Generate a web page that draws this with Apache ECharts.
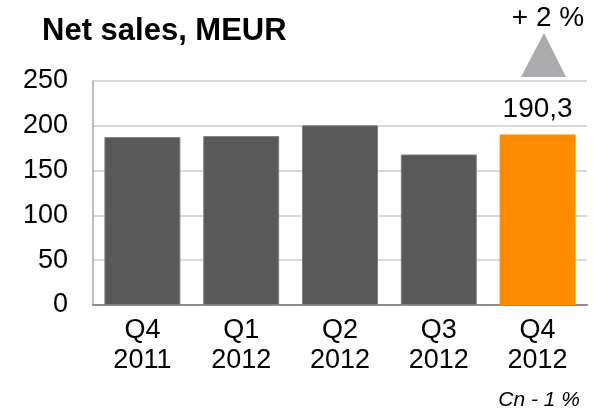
<!DOCTYPE html>
<html>
<head>
<meta charset="utf-8">
<script src="https://cdn.jsdelivr.net/npm/echarts@6/dist/echarts.min.js"></script>
<style>
  html, body { margin: 0; padding: 0; background: #fff; }
  #chart { width: 602px; height: 413px; }
</style>
</head>
<body>
<div id="chart"></div>
<script>
// Quarterly net sales, MEUR
const quarters = ['Q4\n2011', 'Q1\n2012', 'Q2\n2012', 'Q3\n2012', 'Q4\n2012'];
const netSales = [187.4, 188.5, 200.5, 168.0, 190.3];
const yTicks = [0, 50, 100, 150, 200, 250];
const growthText = '+ 2 %';
const currencyNote = 'Cn - 1 %';

const FONT = '"Liberation Sans", Arial, sans-serif';
const DARK = '#595959';
const ORANGE = '#FF8C00';
const last = netSales.length - 1;

const chart = echarts.init(document.getElementById('chart'), null, { renderer: 'canvas' });

chart.setOption({
  animation: false,
  backgroundColor: '#ffffff',
  grid: { left: 93, right: 15, top: 81, bottom: 108, containLabel: false },
  xAxis: {
    type: 'category',
    data: quarters,
    axisLine: { show: true, lineStyle: { color: '#8c8c8c', width: 2 } },
    axisTick: { show: false },
    axisLabel: {
      color: '#000',
      fontFamily: FONT,
      fontSize: 27,
      lineHeight: 30,
      margin: 11
    }
  },
  yAxis: {
    type: 'value',
    min: yTicks[0],
    max: yTicks[yTicks.length - 1],
    interval: yTicks[1] - yTicks[0],
    axisLine: { show: true, lineStyle: { color: '#a6a6a6', width: 1.5 } },
    axisTick: { show: false },
    splitLine: { show: true, lineStyle: { color: '#d9d9d9', width: 2 } },
    axisLabel: {
      color: '#000',
      fontFamily: FONT,
      fontSize: 27,
      margin: 25
    }
  },
  series: [{
    type: 'bar',
    data: netSales.map((v, i) => ({
      value: v,
      itemStyle: i === last
        ? { color: ORANGE }
        : { color: DARK, borderColor: '#808080', borderWidth: 1 },
      label: {
        show: i === last,
        position: 'top',
        distance: 11,
        color: '#000',
        fontFamily: FONT,
        fontSize: 28,
        formatter: p => p.value.toFixed(1).replace('.', ',')
      }
    })),
    barWidth: 76
  }],
  graphic: [
    {
      type: 'text',
      x: 42,
      y: 31,
      style: {
        text: 'Net sales, MEUR',
        font: 'bold 31px ' + FONT,
        fill: '#000',
        verticalAlign: 'middle'
      }
    },
    {
      type: 'polygon',
      shape: { points: [[544, 33], [566, 77], [521, 77]] },
      style: { fill: '#ababae' }
    },
    {
      type: 'text',
      x: 548,
      y: 18,
      style: {
        text: growthText,
        font: '28px ' + FONT,
        fill: '#000',
        align: 'center',
        verticalAlign: 'middle'
      }
    },
    {
      type: 'text',
      x: 580,
      y: 400,
      style: {
        text: currencyNote,
        font: 'italic 21px ' + FONT,
        fill: '#000',
        align: 'right',
        verticalAlign: 'middle'
      }
    }
  ]
});
</script>
</body>
</html>
